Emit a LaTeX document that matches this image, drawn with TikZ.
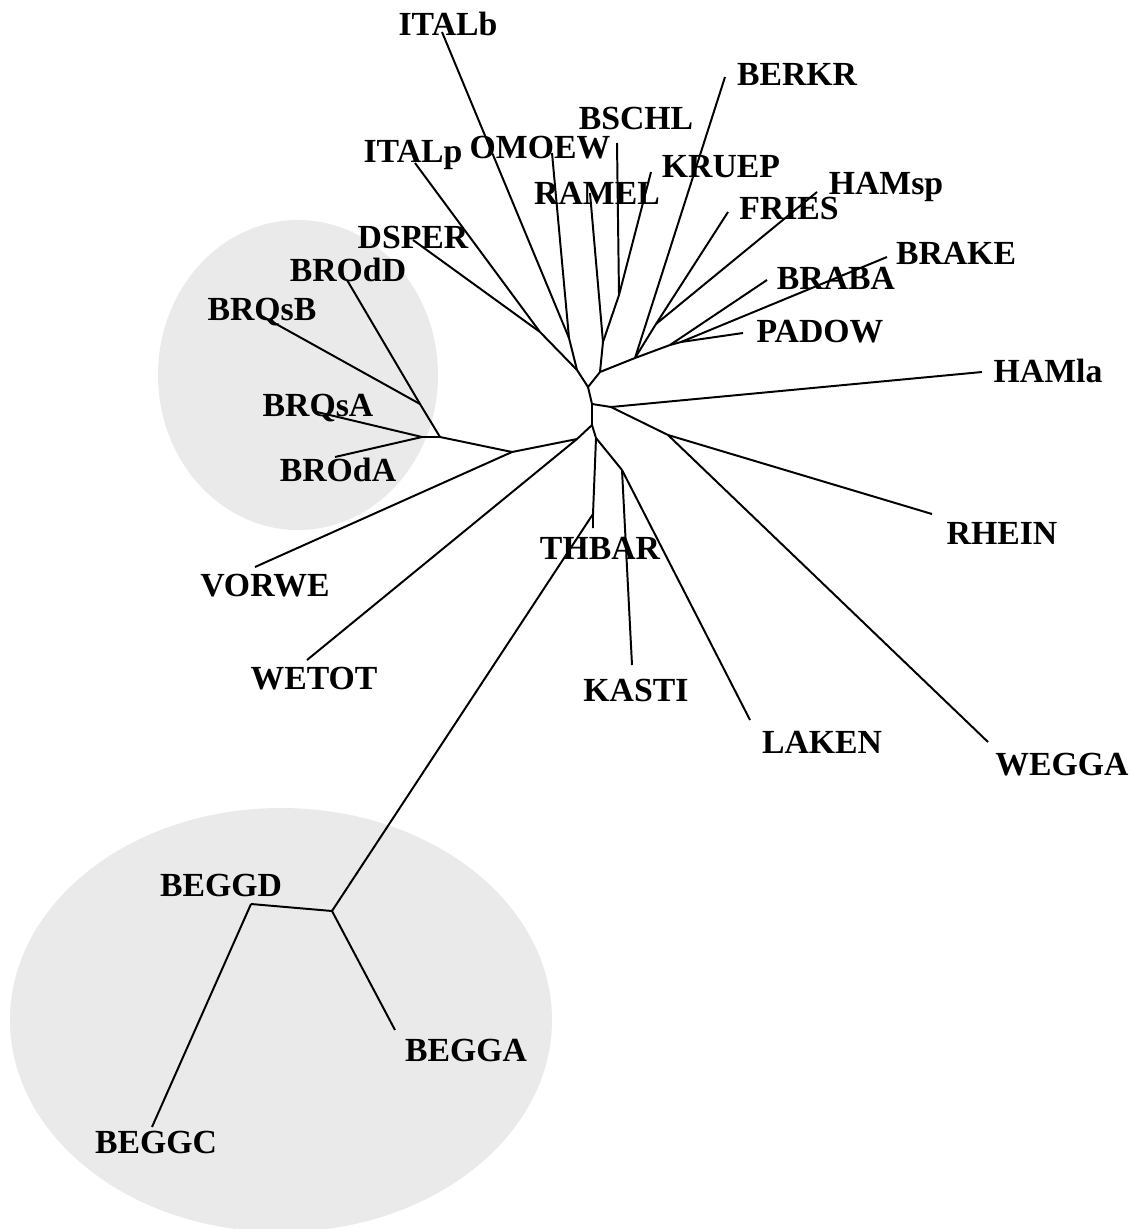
\documentclass[tikz,border=0pt]{standalone}
\usepackage{fontspec}
\setmainfont{Liberation Serif}
\usepackage{tikz}
\usetikzlibrary{positioning}
\definecolor{CladeGray}{HTML}{EAEAEA}

\begin{document}
\begin{tikzpicture}[
  x=0.025cm, y=-0.025cm,
  taxon/.style={font=\bfseries\fontsize{24}{28}\selectfont, inner sep=0pt},
  branch/.style={line width=1.4pt, black, line join=round},
  clade/.style={fill=CladeGray, draw=none}
]
  \useasboundingbox (0,0) rectangle (1132,1229);

  % Shaded clades
  \fill[clade] (298,375) ellipse [x radius=140, y radius=155];
  \fill[clade] (281,1020) ellipse [x radius=271, y radius=212];

  % Inner nodes
  \coordinate (a)  at (588,387);
  \coordinate (c)  at (592,404);
  \coordinate (d)  at (592,425);
  \coordinate (l1) at (577,370);
  \coordinate (l2) at (569,338);
  \coordinate (l3) at (540,332);
  \coordinate (r0) at (600,372);
  \coordinate (r1) at (603,342);
  \coordinate (r2) at (619,295);
  \coordinate (r3) at (635,358);
  \coordinate (r4) at (656,324);
  \coordinate (r5) at (670,345);
  \coordinate (r6) at (681,342);
  \coordinate (h1) at (611,407);
  \coordinate (h2) at (668,435);
  \coordinate (f)  at (577,439);
  \coordinate (v)  at (512,452);
  \coordinate (b1) at (440,437);
  \coordinate (b2) at (422,437);
  \coordinate (b3) at (420,404);
  \coordinate (e)  at (596,438);
  \coordinate (t)  at (593,514);
  \coordinate (k)  at (622,470);
  \coordinate (g0) at (332,911);

  % Tips
  \coordinate (italbT) at (442,32);
  \coordinate (italpT) at (415,163);
  \coordinate (omoewT) at (552,153);
  \coordinate (dsperT) at (413,240);
  \coordinate (ramelT) at (590,193);
  \coordinate (bschlT) at (617,143);
  \coordinate (kruepT) at (651,172);
  \coordinate (berkrT) at (725,77);
  \coordinate (friesT) at (728,212);
  \coordinate (hamspT) at (817,192);
  \coordinate (brabaT) at (767,280);
  \coordinate (brakeT) at (887,257);
  \coordinate (padowT) at (743,333);
  \coordinate (hamlaT) at (982,372);
  \coordinate (rheinT) at (932,514);
  \coordinate (weggaT) at (988,742);
  \coordinate (wetotT) at (307,660);
  \coordinate (vorweT) at (255,567);
  \coordinate (brqsaT) at (317,412);
  \coordinate (brodaT) at (335,457);
  \coordinate (brqsbT) at (260,315);
  \coordinate (broddT) at (347,280);
  \coordinate (thbarT) at (593,528);
  \coordinate (kastiT) at (632,665);
  \coordinate (lakenT) at (750,720);
  \coordinate (beggdT) at (251,904);
  \coordinate (beggaT) at (395,1030);
  \coordinate (beggcT) at (152,1127);

  % Labels
  \node[taxon] (italb) at (448,24)  {ITALb};
  \node[taxon] (berkr) at (797,75)  {BERKR};
  \node[taxon] (bschl) at (636,118) {BSCHL};
  \node[taxon] (italp) at (413,155) {ITALp};
  \node[taxon] (omoew) at (540,148) {OMOEW};
  \node[taxon] (kruep) at (721,167) {KRUEP};
  \node[taxon] (ramel) at (597,193) {RAMEL};
  \node[taxon] (hamsp) at (886,187) {HAMsp};
  \node[taxon] (fries) at (789,208) {FRIES};
  \node[taxon] (dsper) at (413,237) {DSPER};
  \node[taxon] (brake) at (956,253) {BRAKE};
  \node[taxon] (brodd) at (348,270) {BROdD};
  \node[taxon] (braba) at (836,278) {BRABA};
  \node[taxon] (brqsb) at (262,312) {BRQsB};
  \node[taxon] (padow) at (820,332) {PADOW};
  \node[taxon] (hamla) at (1048,371) {HAMla};
  \node[taxon] (brqsa) at (318,408) {BRQsA};
  \node[taxon] (broda) at (338,470) {BROdA};
  \node[taxon] (rhein) at (1002,533) {RHEIN};
  \node[taxon] (thbar) at (600,548) {THBAR};
  \node[taxon] (vorwe) at (265,586) {VORWE};
  \node[taxon] (wetot) at (314,679) {WETOT};
  \node[taxon] (kasti) at (636,690) {KASTI};
  \node[taxon] (laken) at (822,742) {LAKEN};
  \node[taxon] (wegga) at (1062,765) {WEGGA};
  \node[taxon] (beggd) at (221,885) {BEGGD};
  \node[taxon] (begga) at (466,1050) {BEGGA};
  \node[taxon] (beggc) at (156,1142) {BEGGC};

  % Backbone
  \draw[branch] (l1) -- (a) -- (r0);
  \draw[branch] (a) -- (c) -- (d) -- (e);

  % Upper left
  \draw[branch] (l1) -- (l2);
  \draw[branch] (l1) -- (l3);
  \draw[branch] (l2) -- (italbT);
  \draw[branch] (l2) -- (omoewT);
  \draw[branch] (l3) -- (italpT);
  \draw[branch] (l3) -- (dsperT);

  % Upper right
  \draw[branch] (r0) -- (r1) -- (ramelT);
  \draw[branch] (r1) -- (r2) -- (bschlT);
  \draw[branch] (r2) -- (kruepT);
  \draw[branch] (r0) -- (r3) -- (r5);
  \draw[branch] (r3) -- (berkrT);
  \draw[branch] (r3) -- (r4);
  \draw[branch] (r4) -- (friesT);
  \draw[branch] (r4) -- (hamspT);
  \draw[branch] (r5) -- (brabaT);
  \draw[branch] (r5) -- (r6);
  \draw[branch] (r6) -- (brakeT);
  \draw[branch] (r6) -- (padowT);

  % Right
  \draw[branch] (c) -- (h1) -- (hamlaT);
  \draw[branch] (h1) -- (h2);
  \draw[branch] (h2) -- (rheinT);
  \draw[branch] (h2) -- (weggaT);

  % Lower left
  \draw[branch] (d) -- (f) -- (v);
  \draw[branch] (f) -- (wetotT);
  \draw[branch] (v) -- (vorweT);
  \draw[branch] (v) -- (b1) -- (b2);
  \draw[branch] (b2) -- (brqsaT);
  \draw[branch] (b2) -- (brodaT);
  \draw[branch] (b1) -- (b3) -- (broddT);
  \draw[branch] (b3) -- (brqsbT);

  % Lower
  \draw[branch] (e) -- (t) -- (thbarT);
  \draw[branch] (e) -- (k);
  \draw[branch] (k) -- (kastiT);
  \draw[branch] (k) -- (lakenT);
  \draw[branch] (t) -- (g0);
  \draw[branch] (g0) -- (beggdT);
  \draw[branch] (g0) -- (beggaT);
  \draw[branch] (beggdT) -- (beggcT);
\end{tikzpicture}
\end{document}
